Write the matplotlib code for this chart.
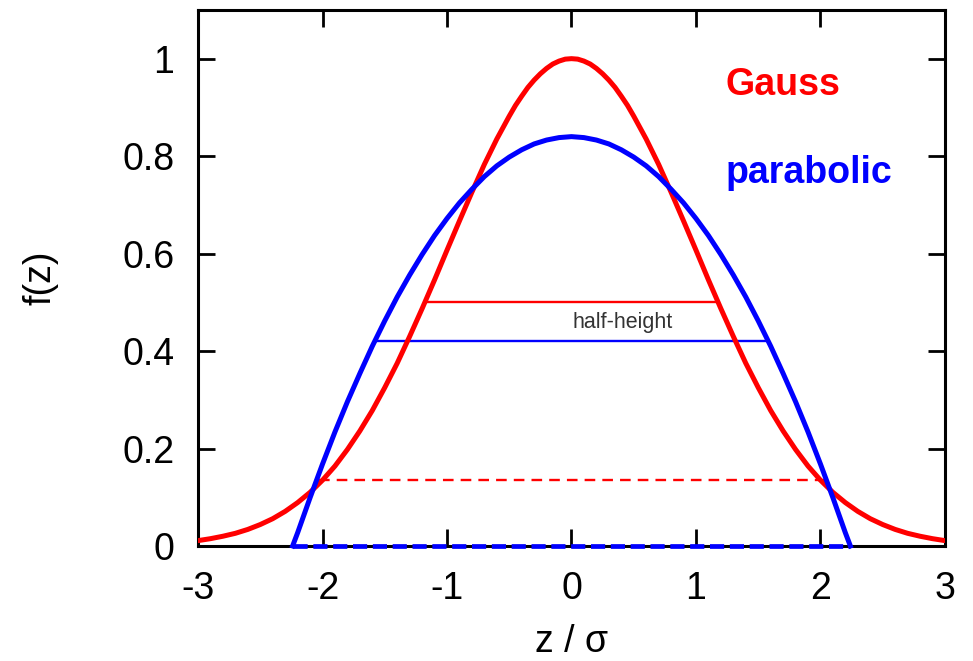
import matplotlib
matplotlib.use("Agg")
import matplotlib.pyplot as plt

plt.rcParams['font.family'] = ['Liberation Sans', 'DejaVu Sans']

# Gauss curve (symmetric about z = 0)
gauss_z_half = [0.0, 0.05, 0.1, 0.15, 0.2, 0.25, 0.3, 0.35, 0.4, 0.45, 0.5, 0.6, 0.7, 0.8, 0.9, 1.0,
                1.1, 1.2, 1.3, 1.4, 1.5, 1.6, 1.7, 1.8, 1.9, 2.0,
                2.1, 2.2, 2.3, 2.4, 2.5, 2.6, 2.7, 2.8, 2.9, 3.0]
gauss_f_half = [1.000, 0.999, 0.995, 0.989, 0.980, 0.969, 0.956, 0.941, 0.923, 0.904, 0.882,
                0.835, 0.783, 0.726, 0.667, 0.607,
                0.546, 0.487, 0.430, 0.375, 0.325, 0.278, 0.236, 0.198, 0.164, 0.135,
                0.110, 0.089, 0.071, 0.056, 0.044, 0.034, 0.026, 0.020, 0.015, 0.011]

# parabolic curve (symmetric about z = 0)
para_z_half = [0.0, 0.1, 0.2, 0.3, 0.4, 0.5, 0.6, 0.7, 0.8, 0.9, 1.0,
               1.1, 1.2, 1.3, 1.4, 1.5, 1.6, 1.7, 1.8, 1.9, 2.0,
               2.1, 2.2, 2.24]
para_f_half = [0.840, 0.838, 0.833, 0.825, 0.813, 0.798, 0.780, 0.758, 0.732, 0.704, 0.672,
               0.637, 0.598, 0.556, 0.511, 0.462, 0.410, 0.354, 0.296, 0.234, 0.168,
               0.099, 0.027, 0.000]

# horizontal reference lines: (z_left, z_right, level)
gauss_half = (-1.17, 1.17, 0.50)
para_half = (-1.58, 1.58, 0.42)
gauss_cross = (-2.03, 2.03, 0.135)
para_base = (-2.24, 2.24, 0.0)

xticks = [-3, -2, -1, 0, 1, 2, 3]
yticks = [0, 0.2, 0.4, 0.6, 0.8, 1]
ytick_labels = ['0', '0.2', '0.4', '0.6', '0.8', '1']


def mirror(zh, fh):
    z = [-v for v in zh[::-1]] + list(zh[1:])
    f = list(fh[::-1]) + list(fh[1:])
    return z, f


gz, gf = mirror(gauss_z_half, gauss_f_half)
pz, pf = mirror(para_z_half, para_f_half)

fig = plt.figure(figsize=(9.73, 6.61), dpi=100)
ax = fig.add_axes([0.2035, 0.174, 0.7677, 0.811])

RED = '#ff0000'
BLUE = '#0000ff'

ax.plot([para_base[0], para_base[1]], [para_base[2]] * 2, color=BLUE, lw=3.4,
        dashes=(3.0, 1.2), zorder=3, clip_on=False)
ax.plot(gz, gf, color=RED, lw=3.6, zorder=4, solid_joinstyle='round')
ax.plot(pz, pf, color=BLUE, lw=3.6, zorder=5, clip_on=False, solid_joinstyle='round')
ax.plot([gauss_half[0], gauss_half[1]], [gauss_half[2]] * 2, color=RED, lw=1.7, zorder=3)
ax.plot([para_half[0], para_half[1]], [para_half[2]] * 2, color=BLUE, lw=1.7, zorder=3)
ax.plot([gauss_cross[0], gauss_cross[1]], [gauss_cross[2]] * 2, color=RED, lw=1.7,
        dashes=(4.5, 3.0), zorder=3)

ax.text(0.41, 0.459, 'half-height', color='#333333', fontsize=15.5, ha='center', va='center')
ax.text(1.24, 0.945, 'Gauss', color=RED, fontsize=27, fontweight='bold', ha='left', va='center')
ax.text(1.24, 0.765, 'parabolic', color=BLUE, fontsize=27, fontweight='bold', ha='left', va='center')

ax.set_xlim(-3, 3)
ax.set_ylim(0, 1.1)
ax.set_xticks(xticks)
ax.set_xticklabels([str(t) for t in xticks])
ax.set_yticks(yticks)
ax.set_yticklabels(ytick_labels)
ax.tick_params(direction='in', length=12, width=2, labelsize=27, top=True, right=True)
ax.tick_params(axis='x', pad=18)
ax.tick_params(axis='y', pad=17)
for s in ax.spines.values():
    s.set_linewidth(2.2)

ax.set_xlabel('z / σ', fontsize=27, labelpad=12)
ax.set_ylabel('f(z)', fontsize=27, labelpad=46)

fig.savefig('out.png', dpi=100)
